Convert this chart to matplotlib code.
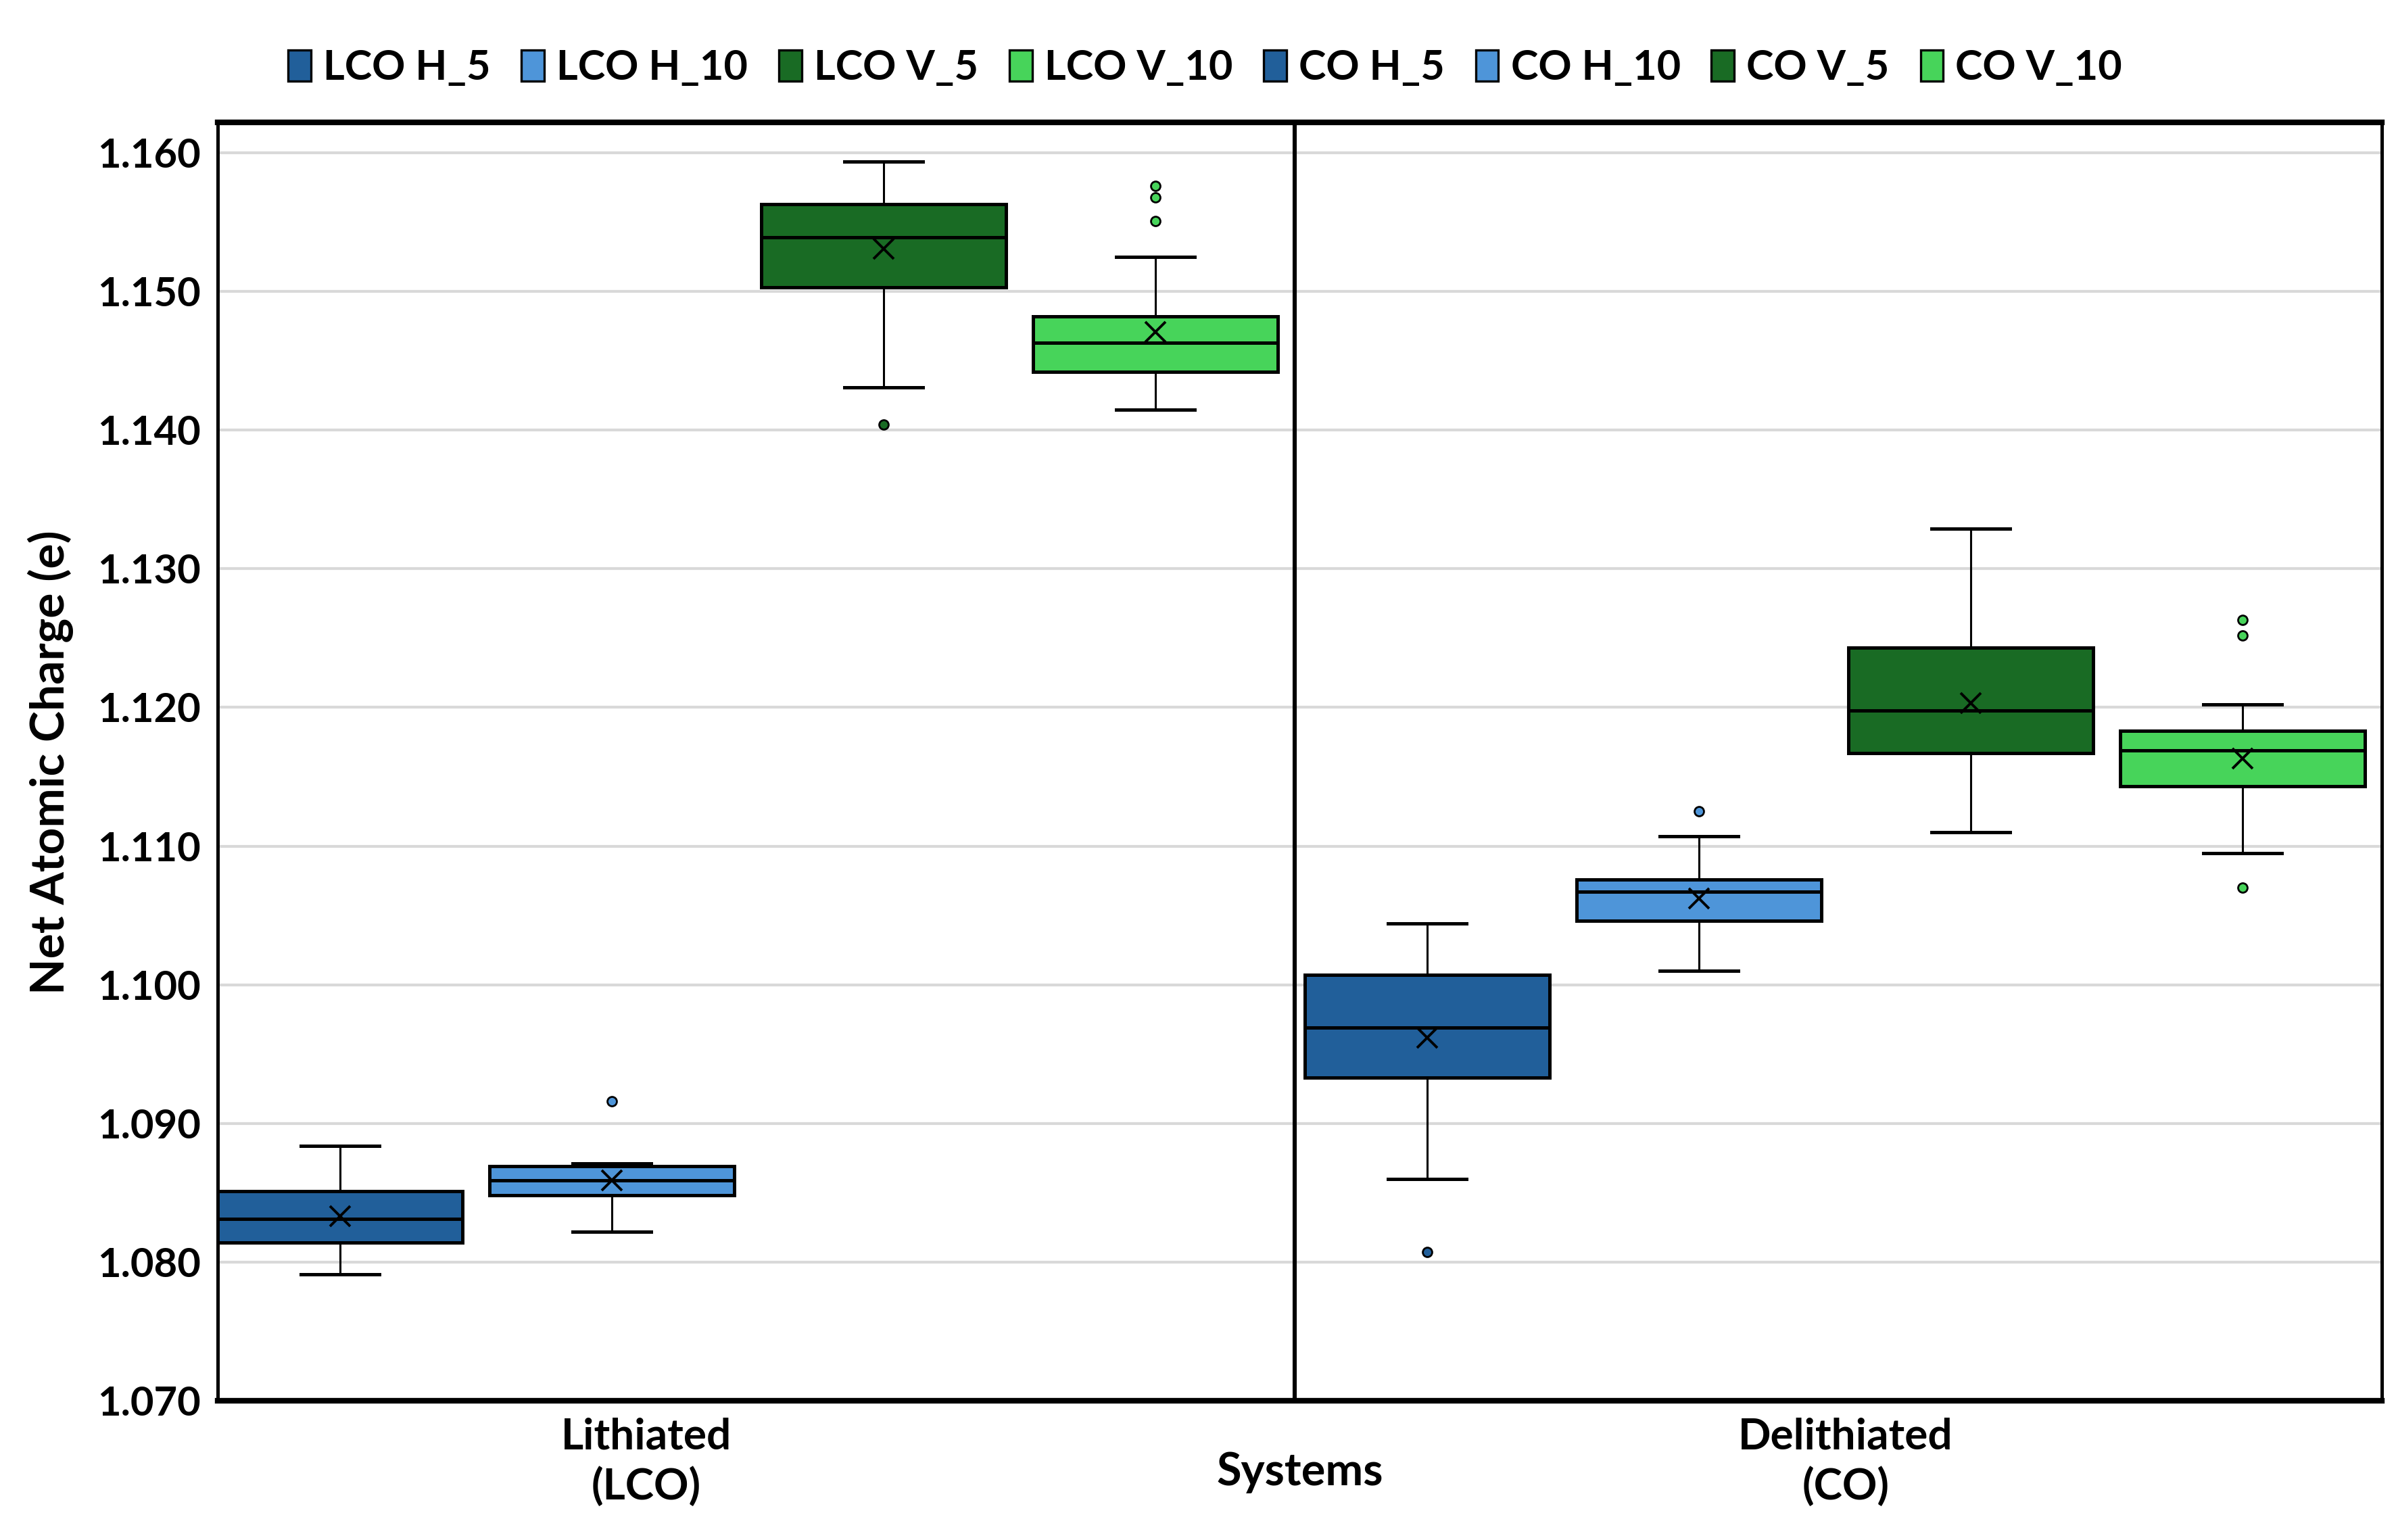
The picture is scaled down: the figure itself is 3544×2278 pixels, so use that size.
import matplotlib.pyplot as plt
from matplotlib.patches import Patch

# series names and colours
series = ["LCO H_5", "LCO H_10", "LCO V_5", "LCO V_10", "CO H_5", "CO H_10", "CO V_5", "CO V_10"]
colors = ["#215F9A", "#4E95D9", "#196B24", "#47D45A", "#215F9A", "#4E95D9", "#196B24", "#47D45A"]

# box statistics
whis_lo = [1.0791, 1.0822, 1.1431, 1.1415, 1.0860, 1.1010, 1.1110, 1.1095]
q1 = [1.0814, 1.0848, 1.1503, 1.1442, 1.0933, 1.1046, 1.1167, 1.1143]
median = [1.0831, 1.0859, 1.1539, 1.1463, 1.0969, 1.1067, 1.1198, 1.1169]
q3 = [1.0851, 1.0869, 1.1563, 1.1482, 1.1007, 1.1076, 1.1243, 1.1183]
whis_hi = [1.0884, 1.0871, 1.1594, 1.1525, 1.1044, 1.1107, 1.1329, 1.1202]
means = [1.0833, 1.0859, 1.1531, 1.1471, 1.0962, 1.1062, 1.1203, 1.1163]
outliers = [[], [1.0916], [1.1404], [1.1576, 1.1568, 1.1551], [1.0807], [1.1125], [], [1.1263, 1.1252, 1.1070]]

groups = ["Lithiated\n(LCO)", "Delithiated\n(CO)"]
yticks = [1.070, 1.080, 1.090, 1.100, 1.110, 1.120, 1.130, 1.140, 1.150, 1.160]

plt.rcParams['font.family'] = ['Lato', 'DejaVu Sans']
plt.rcParams['font.weight'] = 'bold'

fig = plt.figure(figsize=(17.72, 11.39), dpi=200)
ax = fig.add_axes([0.0908, 0.0905, 0.9034, 0.830])

stats = []
for i in range(len(series)):
    stats.append(dict(label=series[i], med=median[i], q1=q1[i], q3=q3[i],
                      whislo=whis_lo[i], whishi=whis_hi[i], mean=means[i],
                      fliers=outliers[i]))

pos = list(range(len(series)))
bp = ax.bxp(stats, positions=pos, widths=0.9, capwidths=0.29, patch_artist=True,
            showmeans=True,
            boxprops=dict(edgecolor='black', linewidth=1.8),
            medianprops=dict(color='black', linewidth=1.8),
            whiskerprops=dict(color='black', linewidth=1.1),
            capprops=dict(color='black', linewidth=1.8),
            meanprops=dict(marker='x', markeredgecolor='black', markersize=11, markeredgewidth=1.4),
            flierprops=dict(marker='o', markeredgecolor='black', markersize=5, markeredgewidth=1.0),
            zorder=3)

for patch, c in zip(bp['boxes'], colors):
    patch.set_facecolor(c)
for fl, c in zip(bp['fliers'], colors):
    fl.set_markerfacecolor(c)

ax.set_xlim(-0.451, 7.514)
ax.set_ylim(1.070, 1.1622)
ax.set_yticks(yticks)
ax.set_yticklabels([f"{v:.3f}" for v in yticks], fontsize=21.5, fontweight='bold')
ax.tick_params(axis='y', length=0, pad=9)
ax.grid(axis='y', color='#D9D9D9', linewidth=1.5, zorder=0)
ax.set_axisbelow(True)

ax.set_xticks([1.127, 5.54])
ax.set_xticklabels(groups, fontsize=23, fontweight='bold', linespacing=1.3)
ax.tick_params(axis='x', length=0, pad=9)

ax.axvline(3.512, color='black', linewidth=2.2, zorder=4)

for side in ['top', 'bottom']:
    ax.spines[side].set_linewidth(3.0)
for side in ['left', 'right']:
    ax.spines[side].set_linewidth(1.8)

ax.text(0.5, -0.0563, "Systems", transform=ax.transAxes, ha='center', va='center',
        fontsize=24, fontweight='bold')
fig.text(0.0211, 0.505, "Net Atomic Charge (e)", rotation=90, ha='center', va='center',
         fontsize=25, fontweight='bold')

handles = [Patch(facecolor=c, edgecolor='black', linewidth=1.2) for c in colors]
fig.legend(handles, series, ncol=8, loc='center', bbox_to_anchor=(0.503, 0.956),
           frameon=False, handlelength=0.55, handleheight=0.8,
           columnspacing=0.75, handletextpad=0.3, prop={'weight': 'bold', 'size': 22})

fig.savefig("out.png", dpi=200)
